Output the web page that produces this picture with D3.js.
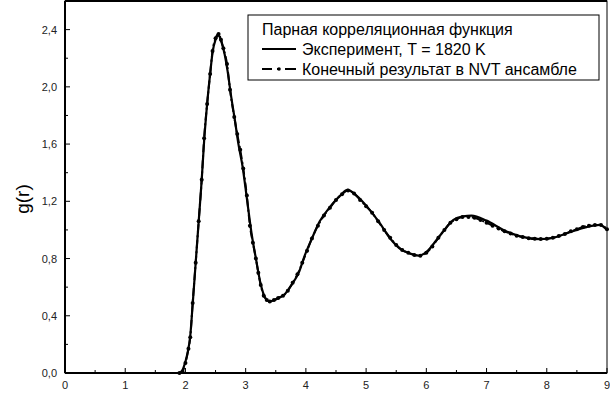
<!DOCTYPE html>
<meta charset="utf-8">
<script src="https://d3js.org/d3.v7.js"></script>
<style>
  body { margin: 0; background: #fff; }
  text { font-family: "Liberation Sans", Arial, sans-serif; }
</style>
<svg id="chart" width="610" height="393"></svg>
<script>

// Experiment, T = 1820 K
const expR = [0, 1.90, 1.95, 2.00, 2.04, 2.08, 2.12, 2.17, 2.22, 2.27, 2.31, 2.36, 2.41, 2.45, 2.50, 2.55, 2.60, 2.65, 2.70, 2.76, 2.82, 2.88, 2.95, 3.02, 3.10, 3.17, 3.25, 3.32, 3.40, 3.48, 3.57, 3.65, 3.72, 3.80, 3.88, 3.98, 4.10, 4.23, 4.40, 4.57, 4.69, 4.84, 5.06, 5.23, 5.40, 5.56, 5.73, 5.87, 6.00, 6.17, 6.30, 6.45, 6.61, 6.75, 7.00, 7.28, 7.56, 7.89, 8.11, 8.39, 8.66, 8.88, 9.00];
const expG = [0, 0, 0.02, 0.08, 0.15, 0.26, 0.48, 0.77, 1.06, 1.35, 1.62, 1.88, 2.09, 2.24, 2.33, 2.36, 2.31, 2.23, 2.11, 1.93, 1.77, 1.60, 1.44, 1.22, 0.97, 0.80, 0.62, 0.53, 0.50, 0.51, 0.53, 0.55, 0.59, 0.64, 0.70, 0.82, 0.94, 1.06, 1.16, 1.24, 1.28, 1.24, 1.14, 1.045, 0.94, 0.87, 0.835, 0.82, 0.845, 0.93, 1.00, 1.07, 1.095, 1.10, 1.065, 1.00, 0.955, 0.935, 0.945, 0.985, 1.02, 1.035, 1.00];

// Final result in NVT ensemble
const nvtR = [1.90, 1.95, 2.00, 2.05, 2.08, 2.12, 2.17, 2.22, 2.27, 2.31, 2.36, 2.41, 2.45, 2.50, 2.55, 2.59, 2.63, 2.69, 2.74, 2.81, 2.86, 2.91, 2.96, 3.02, 3.07, 3.12, 3.17, 3.21, 3.25, 3.30, 3.35, 3.40, 3.47, 3.54, 3.62, 3.70, 3.78, 3.86, 3.94, 4.02, 4.10, 4.20, 4.30, 4.40, 4.50, 4.60, 4.70, 4.80, 4.90, 5.00, 5.10, 5.20, 5.30, 5.40, 5.50, 5.60, 5.70, 5.80, 5.90, 6.00, 6.10, 6.20, 6.30, 6.40, 6.50, 6.60, 6.70, 6.80, 6.90, 7.00, 7.10, 7.20, 7.30, 7.40, 7.50, 7.60, 7.70, 7.80, 7.90, 8.00, 8.10, 8.20, 8.30, 8.40, 8.50, 8.60, 8.70, 8.80, 8.90, 9.00];
const nvtG = [0, 0.01, 0.07, 0.17, 0.25, 0.49, 0.77, 1.06, 1.35, 1.64, 1.88, 2.09, 2.25, 2.34, 2.37, 2.33, 2.27, 2.16, 1.98, 1.79, 1.67, 1.56, 1.43, 1.24, 1.03, 0.91, 0.80, 0.70, 0.615, 0.54, 0.51, 0.50, 0.51, 0.525, 0.54, 0.575, 0.63, 0.69, 0.77, 0.855, 0.94, 1.03, 1.10, 1.155, 1.21, 1.25, 1.275, 1.255, 1.21, 1.165, 1.12, 1.06, 1.00, 0.945, 0.895, 0.86, 0.84, 0.825, 0.82, 0.84, 0.885, 0.945, 1.00, 1.05, 1.075, 1.09, 1.09, 1.085, 1.07, 1.05, 1.03, 1.01, 0.99, 0.975, 0.96, 0.95, 0.942, 0.938, 0.936, 0.938, 0.945, 0.957, 0.972, 0.99, 1.005, 1.02, 1.03, 1.035, 1.035, 1.005];

const xTicks = [0, 1, 2, 3, 4, 5, 6, 7, 8, 9];
const yTicks = [0, 0.4, 0.8, 1.2, 1.6, 2.0, 2.4];
const legendTitle = "Парная корреляционная функция";
const legendLabels = ["Эксперимент, T = 1820 K", "Конечный результат в NVT ансамбле"];

const svg = d3.select("#chart");
const mLeft = 65, mRight = 607, mTop = 1, mBottom = 373;

const x = d3.scaleLinear().domain([0, 9]).range([mLeft, mRight]);
const y = d3.scaleLinear().domain([0, 2.6]).range([mBottom, mTop]);

const fmt = d => d3.format(".1f")(d).replace(".", ",");

// minor ticks
const xMinor = d3.range(0.5, 9, 1);
const yMinor = d3.range(0.2, 2.6, 0.4);

const g = svg.append("g");

// frame
g.append("rect")
  .attr("x", mLeft).attr("y", mTop)
  .attr("width", mRight - mLeft).attr("height", mBottom - mTop)
  .attr("fill", "none").attr("stroke", "#000").attr("stroke-width", 1);
g.append("line").attr("x1", mLeft).attr("x2", mRight).attr("y1", mBottom).attr("y2", mBottom)
  .attr("stroke", "#000").attr("stroke-width", 2);
g.append("line").attr("x1", mLeft).attr("x2", mLeft).attr("y1", mTop).attr("y2", mBottom)
  .attr("stroke", "#000").attr("stroke-width", 2);
g.append("line").attr("x1", mLeft).attr("x2", mRight).attr("y1", mTop).attr("y2", mTop)
  .attr("stroke", "#000").attr("stroke-width", 2);

// x ticks
g.selectAll(".xt").data(xTicks).join("line")
  .attr("x1", d => x(d)).attr("x2", d => x(d))
  .attr("y1", mBottom).attr("y2", mBottom - 5)
  .attr("stroke", "#000");
g.selectAll(".xm").data(xMinor).join("line")
  .attr("x1", d => x(d)).attr("x2", d => x(d))
  .attr("y1", mBottom).attr("y2", mBottom - 3)
  .attr("stroke", "#000");
g.selectAll(".xl").data(xTicks).join("text")
  .attr("x", d => x(d)).attr("y", 389)
  .attr("text-anchor", "middle")
  .attr("font-size", 11).attr("fill", "#222")
  .text(d => d);

// y ticks
g.selectAll(".yt").data(yTicks).join("line")
  .attr("x1", mLeft).attr("x2", mLeft + 5)
  .attr("y1", d => y(d)).attr("y2", d => y(d))
  .attr("stroke", "#000");
g.selectAll(".ym").data(yMinor).join("line")
  .attr("x1", mLeft).attr("x2", mLeft + 3)
  .attr("y1", d => y(d)).attr("y2", d => y(d))
  .attr("stroke", "#000");
g.selectAll(".yl").data(yTicks).join("text")
  .attr("x", 57).attr("y", d => y(d) + 4)
  .attr("text-anchor", "end")
  .attr("font-size", 11).attr("fill", "#222")
  .text(fmt);

svg.append("text")
  .attr("transform", "translate(29,199) rotate(-90)")
  .attr("text-anchor", "middle")
  .attr("font-size", 19)
  .text("g(r)");

// lines
const line = d3.line().curve(d3.curveMonotoneX);

svg.append("path")
  .attr("d", line(expR.map((r, i) => [x(r), y(expG[i])])))
  .attr("fill", "none").attr("stroke", "#000").attr("stroke-width", 2.2);

svg.append("path")
  .attr("d", line(nvtR.map((r, i) => [x(r), y(nvtG[i])])))
  .attr("fill", "none").attr("stroke", "#000").attr("stroke-width", 2)
  .attr("stroke-dasharray", "8,3,2,3");

svg.selectAll(".dot").data(nvtR).join("circle")
  .attr("cx", d => x(d)).attr("cy", (d, i) => y(nvtG[i]))
  .attr("r", 2).attr("fill", "#000");

// legend
const lg = svg.append("g");
lg.append("rect")
  .attr("x", 248).attr("y", 15).attr("width", 351).attr("height", 65)
  .attr("fill", "#fff").attr("stroke", "#000").attr("stroke-width", 1);
lg.append("text").attr("x", 262).attr("y", 35).attr("font-size", 16).text(legendTitle);
lg.append("line").attr("x1", 262).attr("x2", 296).attr("y1", 49).attr("y2", 49)
  .attr("stroke", "#000").attr("stroke-width", 1.8);
lg.append("text").attr("x", 302).attr("y", 55).attr("font-size", 16).text(legendLabels[0]);
lg.append("line").attr("x1", 262).attr("x2", 296).attr("y1", 69).attr("y2", 69)
  .attr("stroke", "#000").attr("stroke-width", 1.8).attr("stroke-dasharray", "10,5,3,5,12");
lg.append("circle").attr("cx", 279).attr("cy", 69).attr("r", 1.8).attr("fill", "#000");
lg.append("text").attr("x", 302).attr("y", 75).attr("font-size", 16).text(legendLabels[1]);

</script>
